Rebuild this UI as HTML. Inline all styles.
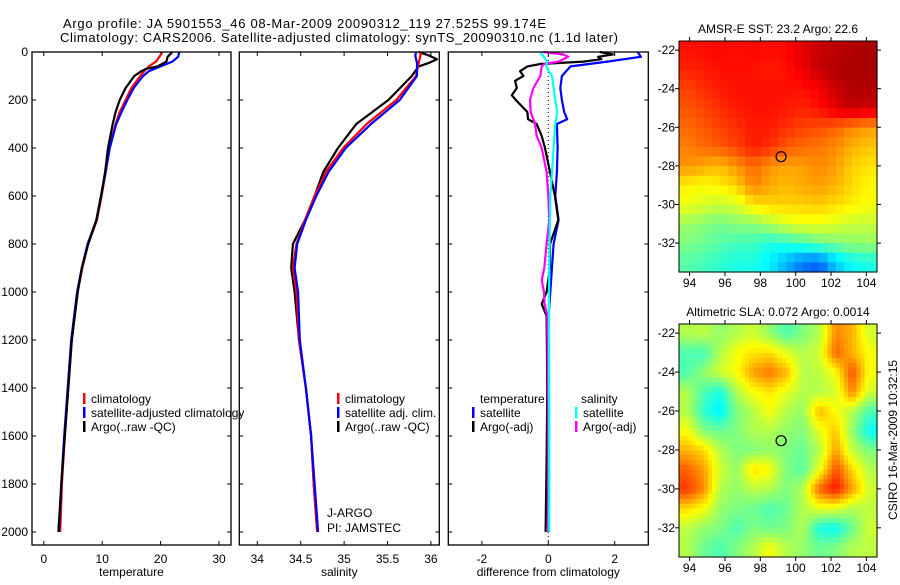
<!DOCTYPE html>
<html><head><meta charset="utf-8"><style>
body{margin:0;background:#fff}
svg text{font-family:"Liberation Sans",sans-serif;font-size:12px;fill:#000}
</style></head><body>
<svg id="fig" width="900" height="580" xmlns="http://www.w3.org/2000/svg">
<g id="root"></g>
</svg>
<script>
// ---------- data ----------
const tempDepthClim=[0,20,40,60,80,100,150,200,250,300,400,500,600,700,800,900,1000,1200,1400,1600,1800,2000];
const tempClim=[20.3,19.8,19.2,18.0,17.2,16.5,15.0,14.0,13.0,12.3,11.2,10.6,9.9,9.1,7.6,6.6,5.8,4.8,4.2,3.6,3.1,2.8];
const tempSat=[23.2,23.0,22.0,20.0,18.0,17.0,15.4,14.3,13.3,12.4,11.3,10.6,9.8,9.0,7.5,6.5,5.7,4.7,4.1,3.5,3.0,2.6];
const tempDepthArgo=[0,20,40,60,70,80,100,150,200,250,300,400,500,600,700,800,900,1000,1200,1400,1600,1800,2000];
const tempArgo=[22.0,21.2,21.0,19.5,17.5,16.7,15.5,14.0,13.0,12.3,11.8,11.0,10.5,9.8,9.0,7.6,6.5,5.8,4.8,4.2,3.6,3.0,2.5];
const salDepth=[0,15,30,45,60,100,200,300,400,500,600,700,800,900,1000,1200,1400,1600,1800,2000];
const salClim=[35.88,35.88,35.87,35.86,35.85,35.83,35.60,35.26,34.99,34.79,34.66,34.55,34.45,34.41,34.45,34.48,34.56,34.62,34.65,34.69];
const salSat=[35.83,35.82,35.83,35.84,35.84,35.84,35.64,35.31,35.02,34.82,34.68,34.56,34.46,34.43,34.47,34.49,34.56,34.62,34.66,34.70];
const salArgo=[35.86,35.98,36.07,35.98,35.86,35.78,35.51,35.14,34.93,34.76,34.66,34.55,34.41,34.39,34.43,34.48,34.56,34.62,34.65,34.69];
const dBlueDepth=[0,20,40,60,100,150,200,250,280,300,400,500,600,700,800,1000,1100,1400,2000];
const dBlue=[2.69,2.79,1.78,0.67,0.41,0.36,0.41,0.48,0.57,0.26,0.28,0.26,0.21,0.31,0.16,0.06,0.01,0.0,0.0];
const dBlackDepth=[0,10,20,30,40,50,60,80,100,120,150,180,200,250,280,300,350,400,500,600,700,800,900,1000,1050,1100,1400,1700,2000];
const dBlack=[1.55,1.95,1.5,1.6,1.06,-0.24,-0.63,-0.85,-0.75,-1.0,-0.95,-1.1,-0.98,-0.63,-0.61,-0.35,-0.2,-0.1,0.05,0.2,0.3,0.05,0.05,-0.05,-0.2,-0.05,-0.03,-0.05,-0.08];
const dMagDepth=[0,10,20,30,40,50,60,100,150,200,250,300,350,400,500,600,700,800,900,950,1000,1050,1100,1500,2000];
const dMag=[-0.15,0.45,0.6,0.45,0.3,-0.12,-0.2,-0.24,-0.45,-0.55,-0.53,-0.4,-0.35,-0.2,-0.05,0.0,0.03,-0.05,-0.12,-0.2,-0.13,-0.11,-0.03,0.0,0.0];
const dCyanDepth=[0,20,40,60,80,100,150,200,250,300,400,500,600,800,1000,1100,1500,2000];
const dCyan=[-0.24,-0.14,-0.04,-0.06,0.01,0.11,0.16,0.21,0.27,0.21,0.16,0.11,0.06,0.04,0.02,0.02,0.03,0.03];
const depthTicks=[0,200,400,600,800,1000,1200,1400,1600,1800,2000];
const tempTicks=[0,10,20,30];
const salTicks=[34,34.5,35,35.5,36];
const diffTicks=[-2,0,2];
const lonTicks=[94,96,98,100,102,104];
const latTicks=[-22,-24,-26,-28,-30,-32];
const sstGrid=[
[.86,.86,.87,.86,.87,.86,.87,.90,.93,.94,.95,.96],
[.84,.85,.86,.86,.86,.85,.86,.89,.93,.95,.96,.96],
[.81,.83,.85,.86,.86,.86,.86,.86,.88,.93,.95,.95],
[.79,.81,.83,.85,.86,.86,.85,.84,.86,.90,.94,.92],
[.77,.79,.81,.83,.85,.85,.83,.81,.80,.78,.74,.72],
[.75,.77,.79,.81,.85,.83,.79,.77,.76,.74,.70,.68],
[.73,.71,.69,.73,.77,.73,.71,.72,.74,.72,.67,.65],
[.64,.62,.64,.67,.75,.71,.69,.71,.72,.70,.66,.63],
[.61,.59,.57,.59,.65,.67,.67,.67,.68,.66,.64,.62],
[.53,.51,.49,.51,.51,.55,.59,.61,.61,.59,.57,.57],
[.50,.48,.46,.44,.44,.40,.42,.44,.48,.50,.52,.52],
[.46,.44,.42,.40,.40,.36,.30,.24,.22,.32,.38,.40]];
const slaGrid=[
[.55,.56,.52,.55,.58,.52,.45,.50,.55,.74,.70,.58],
[.45,.44,.55,.62,.65,.66,.60,.55,.58,.78,.70,.62],
[.45,.52,.58,.62,.72,.76,.70,.55,.56,.62,.80,.62],
[.55,.45,.40,.55,.62,.65,.60,.55,.55,.58,.75,.58],
[.55,.42,.36,.50,.55,.62,.55,.52,.70,.62,.55,.45],
[.62,.50,.48,.50,.55,.55,.52,.50,.60,.68,.52,.38],
[.70,.66,.55,.50,.50,.52,.50,.48,.55,.72,.56,.50],
[.78,.72,.58,.52,.66,.62,.50,.46,.60,.80,.66,.55],
[.82,.74,.55,.52,.56,.55,.50,.55,.78,.86,.72,.58],
[.66,.62,.52,.50,.48,.45,.48,.55,.60,.60,.55,.56],
[.56,.52,.50,.45,.50,.48,.50,.55,.40,.38,.48,.58],
[.55,.48,.45,.50,.55,.62,.55,.52,.48,.50,.55,.56]];
const argoPos=[99.174,-27.525];

// ---------- helpers ----------
const NS="http://www.w3.org/2000/svg";
const root=document.getElementById('root');
function mk(tag,attrs,parent){const e=document.createElementNS(NS,tag);for(const k in attrs)e.setAttribute(k,attrs[k]);(parent||root).appendChild(e);return e;}
function txt(x,y,s,anchor,parent){const t=mk('text',{x:x,y:y,'text-anchor':anchor||'middle'},parent);t.textContent=s;return t;}
const yD=d=>52+d*0.24;
const panels=[
 {name:'temperature-panel',x0:32,x1:231,xs:v=>43.8+v*5.84,ticks:tempTicks,label:'temperature'},
 {name:'salinity-panel',x0:239.3,x1:439.3,xs:v=>257.3+(v-34)*86.8,ticks:salTicks,label:'salinity'},
 {name:'difference-panel',x0:448.3,x1:648.3,xs:v=>548.3+v*33.2,ticks:diffTicks,label:'difference from climatology'}];
function line(p,depths,vals,color,name){
 const pts=depths.map((d,i)=>p.xs(vals[i]).toFixed(1)+','+yD(d).toFixed(1)).join(' ');
 const e=mk('polyline',{points:pts,fill:'none',stroke:color,'stroke-width':2.2,'stroke-linejoin':'round'},p.g);
 
 
}
panels.forEach((p,pi)=>{
 p.g=mk('g',{});
 
 
 p.ticks.forEach(t=>{const x=p.xs(t);
  mk('line',{x1:x,y1:52,x2:x,y2:56,stroke:'#000'},p.g);mk('line',{x1:x,y1:545,x2:x,y2:541,stroke:'#000'},p.g);
  const tl=txt(x,563,String(t),'middle',p.g);
  
  });
 depthTicks.forEach(d=>{const y=yD(d);
  mk('line',{x1:p.x0,y1:y,x2:p.x0+4,y2:y,stroke:'#000'},p.g);mk('line',{x1:p.x1,y1:y,x2:p.x1-4,y2:y,stroke:'#000'},p.g);
  if(pi==0){const tl=txt(28,y+4,String(d),'end',p.g);
   
   }});
 const xl=txt((p.x0+p.x1)/2,576,p.label,'middle',p.g);
 
 
});
line(panels[0],tempDepthClim,tempClim,'#f00','climatology-temp-line');
line(panels[0],tempDepthClim,tempSat,'#00f','satellite-temp-line');
line(panels[0],tempDepthArgo,tempArgo,'#000','argo-temp-line');
line(panels[1],salDepth,salArgo,'#000','argo-salinity-line');
line(panels[1],salDepth,salClim,'#f00','climatology-salinity-line');
line(panels[1],salDepth,salSat,'#00f','satellite-salinity-line');
mk('line',{x1:panels[2].xs(0),y1:52,x2:panels[2].xs(0),y2:545,stroke:'#000','stroke-dasharray':'1,3'},panels[2].g);
line(panels[2],dBlueDepth,dBlue,'#00f','satellite-temp-diff-line');
line(panels[2],dBlackDepth,dBlack,'#000','argo-temp-diff-line');
line(panels[2],dMagDepth,dMag,'#f0f','argo-salinity-diff-line');
line(panels[2],dCyanDepth,dCyan,'#0ff','satellite-salinity-diff-line');
panels.forEach(p=>mk('rect',{x:p.x0,y:52,width:p.x1-p.x0,height:493,fill:'none',stroke:'#000','stroke-width':1.3},p.g));

function legend(x,y,color,label){
 const g=mk('g',{});
 
 
 mk('rect',{x:x,y:y-10,width:2.5,height:11,fill:color},g);
 txt(x+8,y,label,'start',g);
}
legend(83,403,'#f00','climatology');legend(83,417,'#00f','satellite-adjusted climatology');legend(83,431,'#000','Argo(..raw -QC)');
legend(337,403,'#f00','climatology');legend(337,417,'#00f','satellite adj. clim.');legend(337,431,'#000','Argo(..raw -QC)');
let h=txt(480,403,'temperature','start');
h=txt(581,403,'salinity','start');
legend(472,417,'#00f','satellite');legend(472,431,'#000','Argo(-adj)');
legend(575,417,'#0ff','satellite');legend(575,431,'#f0f','Argo(-adj)');
let j=txt(327,517,'J-ARGO','start');
j=txt(327,532,'PI: JAMSTEC','start');
let t1=txt(63,28,'Argo profile: JA 5901553_46 08-Mar-2009 20090312_119 27.525S 99.174E','start');
t1.setAttribute('textLength','483');t1.style.fontSize='13px';

let t2=txt(60,42,'Climatology: CARS2006. Satellite-adjusted climatology: synTS_20090310.nc (1.1d later)','start');
t2.setAttribute('textLength','558');t2.style.fontSize='13px';


// ---------- maps ----------
function jet(v){v=Math.max(0,Math.min(1,v));
 const r=Math.max(0,Math.min(1,1.5-Math.abs(4*v-3))),g=Math.max(0,Math.min(1,1.5-Math.abs(4*v-2))),b=Math.max(0,Math.min(1,1.5-Math.abs(4*v-1)));
 return `rgb(${Math.round(r*255)},${Math.round(g*255)},${Math.round(b*255)})`;}
function sample(grid,fr,fc){
 const nr=grid.length,nc=grid[0].length;
 fr=Math.max(0,Math.min(nr-1,fr));fc=Math.max(0,Math.min(nc-1,fc));
 const r0=Math.floor(fr),c0=Math.floor(fc),r1=Math.min(nr-1,r0+1),c1=Math.min(nc-1,c0+1),a=fr-r0,b=fc-c0;
 return grid[r0][c0]*(1-a)*(1-b)+grid[r0][c1]*(1-a)*b+grid[r1][c0]*a*(1-b)+grid[r1][c1]*a*b;
}
function map(grid,x0,x1,y0,y1,title,name,sub){
 const g=mk('g',{});
 
 
 const lon0=93.4,lon1=104.6,lat0=-21.53,lat1=-33.5;
 const mx=l=>x0+(l-lon0)/(lon1-lon0)*(x1-x0), my=l=>y0+(l-lat0)/(lat1-lat0)*(y1-y0);
 const nr=grid.length*sub,nc=grid[0].length*sub,cw=(x1-x0)/nc,ch=(y1-y0)/nr;
 for(let r=0;r<nr;r++)for(let c=0;c<nc;c++){
  const v=sub==1?grid[r][c]:sample(grid,(r+0.5)/sub-0.5,(c+0.5)/sub-0.5);
  const cell=mk('rect',{x:(x0+c*cw).toFixed(2),y:(y0+r*ch).toFixed(2),width:(cw+0.6).toFixed(2),height:(ch+0.6).toFixed(2),fill:jet(v)},g);
  
  
 }
 mk('rect',{x:x0,y:y0,width:x1-x0,height:y1-y0,fill:'none',stroke:'#000'},g);
 lonTicks.forEach(l=>{const x=mx(l);mk('line',{x1:x,y1:y1,x2:x,y2:y1+4,stroke:'#000'},g);mk('line',{x1:x,y1:y0,x2:x,y2:y0-4,stroke:'#000'},g);txt(x,y1+15,String(l),'middle',g);});
 latTicks.forEach(l=>{const y=my(l);mk('line',{x1:x0,y1:y,x2:x0-4,y2:y,stroke:'#000'},g);mk('line',{x1:x1,y1:y,x2:x1+4,y2:y,stroke:'#000'},g);txt(x0-4,y+4,String(l),'end',g);});
 mk('circle',{cx:mx(argoPos[0]),cy:my(argoPos[1]),r:5,fill:'none',stroke:'#000','stroke-width':1.2},g);
 txt((x0+x1)/2,y0-8,title,'middle',g);
}
map(sstGrid,679,877,41,272,'AMSR-E SST: 23.2 Argo: 22.6','sst-map',2);
map(slaGrid,679,877,324,557,'Altimetric SLA: 0.072 Argo: 0.0014','sla-map',4);
let cs=mk('text',{x:0,y:0,transform:'translate(897,440) rotate(-90)','text-anchor':'middle'});
cs.textContent='CSIRO 16-Mar-2009 10:32:15';


</script>
</body></html>
